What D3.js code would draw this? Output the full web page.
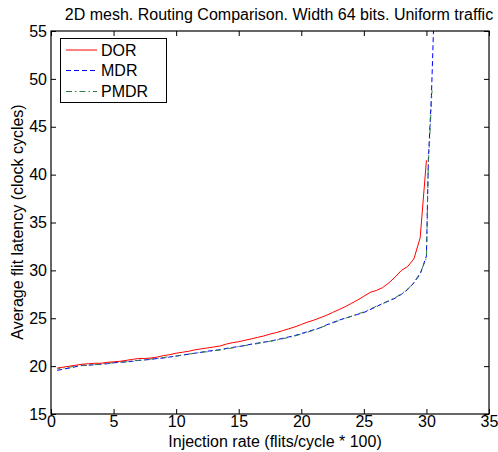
<!DOCTYPE html>
<html><head><meta charset="utf-8">
<script src="https://cdn.jsdelivr.net/npm/d3@7"></script>
<style>body{margin:0;background:#fff}svg{display:block}text{font-family:"Liberation Sans",Arial,Helvetica,sans-serif;fill:#000}</style>
</head><body>
<script>
const title = "2D mesh. Routing Comparison. Width 64 bits. Uniform traffic";
const xLabel = "Injection rate (flits/cycle * 100)";
const yLabel = "Average flit latency (clock cycles)";
const xTicks = [0,5,10,15,20,25,30,35];
const yTicks = [15,20,25,30,35,40,45,50,55];
const seriesNames = ["DOR","MDR","PMDR"];

const dorX = [0.5,1,1.5,2,2.5,3,3.5,4,4.5,5,5.5,6,6.5,7,7.5,8,8.5,9,9.5,10,10.5,11,11.5,12,12.5,13,13.5,14,14.5,15,15.5,16,16.5,17,17.5,18,18.5,19,19.5,20,20.5,21,21.5,22,22.5,23,23.5,24,24.5,25,25.5,26,26.5,27,27.5,28,28.5,29,29.5,30];
const dorY = [19.8,19.9,20.0,20.1,20.2,20.25,20.3,20.3,20.4,20.45,20.5,20.6,20.7,20.8,20.8,20.85,20.95,21.1,21.2,21.35,21.45,21.55,21.7,21.8,21.9,22.0,22.1,22.3,22.45,22.55,22.7,22.85,23.0,23.15,23.35,23.5,23.7,23.9,24.1,24.35,24.6,24.8,25.05,25.3,25.6,25.9,26.2,26.55,26.9,27.3,27.7,27.9,28.2,28.7,29.3,30.0,30.4,31.2,33.4,41.5];

const mdrX = [0.5,1,1.5,2,2.5,3,3.5,4,4.5,5,5.5,6,6.5,7,7.5,8,8.5,9,9.5,10,10.5,11,11.5,12,12.5,13,13.5,14,14.5,15,15.5,16,16.5,17,17.5,18,18.5,19,19.5,20,20.5,21,21.5,22,22.5,23,23.5,24,24.5,25,25.5,26,26.5,27,27.5,28,28.5,29,29.5,30,30.15,30.4,30.6];
const mdrY = [19.55,19.7,19.8,19.95,20.1,20.1,20.15,20.2,20.25,20.35,20.4,20.45,20.5,20.6,20.65,20.7,20.8,20.85,20.95,21.05,21.15,21.25,21.35,21.45,21.55,21.65,21.7,21.85,21.95,22.05,22.15,22.3,22.4,22.5,22.6,22.75,22.9,23.05,23.2,23.4,23.6,23.8,24.0,24.3,24.55,24.8,25.0,25.2,25.4,25.6,25.9,26.2,26.55,26.8,27.1,27.5,28.0,28.7,29.6,31.5,41.4,48.3,56.5];

const pmdrX = [0.5,1,1.5,2,2.5,3,3.5,4,4.5,5,5.5,6,6.5,7,7.5,8,8.5,9,9.5,10,10.5,11,11.5,12,12.5,13,13.5,14,14.5,15,15.5,16,16.5,17,17.5,18,18.5,19,19.5,20,20.5,21,21.5,22,22.5,23,23.5,24,24.5,25,25.5,26,26.5,27,27.5,28,28.5,29,29.5,30,30.15,30.45];
const pmdrY = [19.7,19.8,19.9,20.0,20.05,20.1,20.15,20.2,20.3,20.35,20.4,20.45,20.55,20.6,20.65,20.75,20.8,20.9,21.0,21.05,21.15,21.25,21.35,21.45,21.5,21.6,21.7,21.8,21.9,22.05,22.15,22.25,22.35,22.5,22.6,22.7,22.85,23.0,23.15,23.35,23.55,23.75,24.0,24.25,24.5,24.75,25.0,25.2,25.45,25.65,25.95,26.25,26.5,26.85,27.15,27.55,28.05,28.75,29.7,31.3,41.0,48.8];

const W = 498, H = 452;
const m = {left:51, right:489, top:31, bottom:414};
const svg = d3.select("body").append("svg").attr("width",W).attr("height",H);
const x = d3.scaleLinear().domain([0,35]).range([m.left,m.right]);
const y = d3.scaleLinear().domain([15,55]).range([m.bottom,m.top]);

svg.append("defs").append("clipPath").attr("id","clip").append("rect")
  .attr("x",m.left).attr("y",m.top).attr("width",m.right-m.left).attr("height",m.bottom-m.top);

const fs = 16;
const ax = svg.append("g").attr("transform",`translate(0,${m.bottom})`)
  .call(d3.axisBottom(x).tickValues(xTicks).tickSize(-5).tickPadding(5).tickFormat(d3.format("d")));
const axT = svg.append("g").attr("transform",`translate(0,${m.top})`)
  .call(d3.axisTop(x).tickValues(xTicks).tickSize(-5).tickFormat(""));
const ay = svg.append("g").attr("transform",`translate(${m.left},0)`)
  .call(d3.axisLeft(y).tickValues(yTicks).tickSize(-5).tickPadding(4).tickFormat(d3.format("d")));
const ayR = svg.append("g").attr("transform",`translate(${m.right},0)`)
  .call(d3.axisRight(y).tickValues(yTicks).tickSize(-5).tickFormat(""));
[ax,axT,ay,ayR].forEach(g=>{
  g.selectAll("path").remove();
  g.selectAll("line").attr("stroke","#000").attr("stroke-width",1);
  g.selectAll("text").attr("font-size",fs).attr("font-family","Liberation Sans, Arial, sans-serif").attr("fill","#000");
});
ax.selectAll("text").attr("dy","0.5em");

const line = d3.line().x(d=>x(d[0])).y(d=>y(d[1]));
const plot = svg.append("g").attr("clip-path","url(#clip)");
const dor = dorX.map((v,i)=>[v,dorY[i]]);
const mdr = mdrX.map((v,i)=>[v,mdrY[i]]);
const pmdr = pmdrX.map((v,i)=>[v,pmdrY[i]]);
const styles = [
  {color:"#ff0000", dash:null},
  {color:"#0000ff", dash:"5,3"},
  {color:"#2f7a45", dash:"6,3,1.5,3"}
];
plot.append("path").datum(mdr).attr("d",line).attr("fill","none").attr("stroke",styles[1].color).attr("stroke-width",1).attr("stroke-dasharray",styles[1].dash);
plot.append("path").datum(pmdr).attr("d",line).attr("fill","none").attr("stroke",styles[2].color).attr("stroke-width",1).attr("stroke-dasharray",styles[2].dash).attr("stroke-dashoffset",3);
plot.append("path").datum(dor).attr("d",line).attr("fill","none").attr("stroke",styles[0].color).attr("stroke-width",1);

svg.append("rect").attr("x",m.left).attr("y",m.top).attr("width",m.right-m.left).attr("height",m.bottom-m.top)
  .attr("fill","none").attr("stroke","#000").attr("stroke-width",1.2);

const lg = svg.append("g");
lg.append("rect").attr("x",60.5).attr("y",38.5).attr("width",106).attr("height",64).attr("fill","#fff").attr("stroke","#000").attr("stroke-width",1);
const ly = [50,70.5,91.5];
seriesNames.forEach((n,i)=>{
  lg.append("line").attr("x1",66).attr("x2",97).attr("y1",ly[i]).attr("y2",ly[i])
    .attr("stroke",styles[i].color).attr("stroke-width",1).attr("stroke-dasharray",styles[i].dash);
  lg.append("text").attr("x",101).attr("y",ly[i]).attr("dy","0.36em").attr("font-size",fs).text(n);
});

svg.append("text").attr("x",279).attr("y",20).attr("text-anchor","middle").attr("font-size",fs).text(title);
svg.append("text").attr("x",275).attr("y",447).attr("text-anchor","middle").attr("font-size",fs).text(xLabel);
svg.append("text").attr("transform","translate(23,222) rotate(-90)").attr("text-anchor","middle").attr("font-size",fs).text(yLabel);
</script>
</body></html>
